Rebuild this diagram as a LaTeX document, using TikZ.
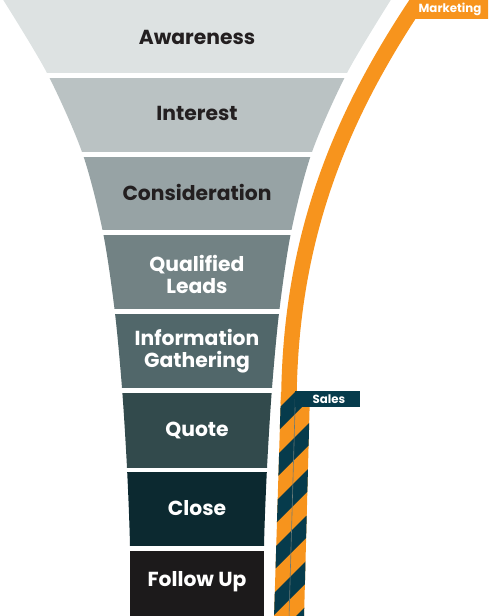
\documentclass[tikz,border=0pt]{standalone}
\usepackage{fontspec}
\setmainfont{Poppins}
\definecolor{lay1}{HTML}{DDE2E2}
\definecolor{lay2}{HTML}{BAC2C3}
\definecolor{lay3}{HTML}{97A3A5}
\definecolor{lay4}{HTML}{728284}
\definecolor{lay5}{HTML}{51676A}
\definecolor{lay6}{HTML}{324A4C}
\definecolor{lay7}{HTML}{0C2930}
\definecolor{lay8}{HTML}{1C1A1B}
\definecolor{inkdark}{HTML}{231F20}
\definecolor{mkorange}{HTML}{F7941D}
\definecolor{salesteal}{HTML}{063B4C}
\definecolor{divline}{HTML}{6A7A78}
\tikzset{
  lbl/.style={font=\fontsize{20.3}{22}\selectfont\bfseries, align=center, inner sep=0pt},
  lbldark/.style={lbl, text=inkdark},
  lbllight/.style={lbl, text=white},
  tag/.style={font=\fontsize{11.8}{12}\selectfont\bfseries, text=white, inner sep=0pt}
}
\begin{document}
\begin{tikzpicture}[x=1pt,y=-1pt]
\useasboundingbox (0,0) rectangle (488,616);
\begin{scope}
  \clip plot[smooth] coordinates {(2,-2) (47,73) (82,152) (102.5,230) (114.5,309) (122,388) (127,468) (130,546) (130,618)}
     -- plot[smooth] coordinates {(264,618) (264,546) (267,468) (272,388) (279.5,309) (291.5,230) (312,152) (347,73) (392,-2)} -- cycle;
  \fill[lay1] (0,-2) rectangle (488,73);
  \fill[lay2] (0,78) rectangle (488,152);
  \fill[lay3] (0,157) rectangle (488,230);
  \fill[lay4] (0,235) rectangle (488,309);
  \fill[lay5] (0,314) rectangle (488,388);
  \fill[lay6] (0,393) rectangle (488,468);
  \fill[lay7] (0,472) rectangle (488,546);
  \fill[lay8] (0,551) rectangle (488,618);
\end{scope}
\node[lbldark, anchor=base] (awareness) at (197,44) {Awareness};
\node[lbldark, anchor=base] (interest) at (197,120.7) {Interest};
\node[lbldark, anchor=base] (consideration) at (197,200.7) {Consideration};
\node[lbllight] (leads) at (197,274) {Qualified\\Leads};
\node[lbllight] (gathering) at (197,351) {Information\\Gathering};
\node[lbllight, anchor=base] (quote) at (197,436.7) {Quote};
\node[lbllight, anchor=base] (close) at (197,515) {Close};
\node[lbllight, anchor=base] (followup) at (197,586.7) {Follow Up};
\begin{scope}
  \clip (0,0) rectangle (488,616);
  \draw[mkorange, line width=15.5pt] (422,-5) .. controls (351,100) and (292,220) .. (289,392) -- (288.4,404);
  \fill[mkorange] (281,392) -- (310,392) -- (304,618) -- (274,618) -- cycle;
  \begin{scope}
    \clip (281,392) -- (310,392) -- (304,618) -- (274,618) -- cycle;
    \foreach \k in {0,...,6} {
      \pgfmathsetmacro{\c}{687+45*\k}
      \fill[salesteal] (\c-380,380) -- (\c+22-380,380) -- (\c+22-640,640) -- (\c-640,640) -- cycle;
    }
  \end{scope}
  \draw[divline, line width=0.6pt] (295.5,392) -- (289,618);
  \fill[salesteal] (295,391) rectangle (360,407);
  \fill[mkorange] (412,-1) rectangle (489,19);
\end{scope}
\node[tag] (sales) at (329,399.5) {Sales};
\node[tag] (marketing) at (450,9.5) {Marketing};
\end{tikzpicture}
\end{document}
